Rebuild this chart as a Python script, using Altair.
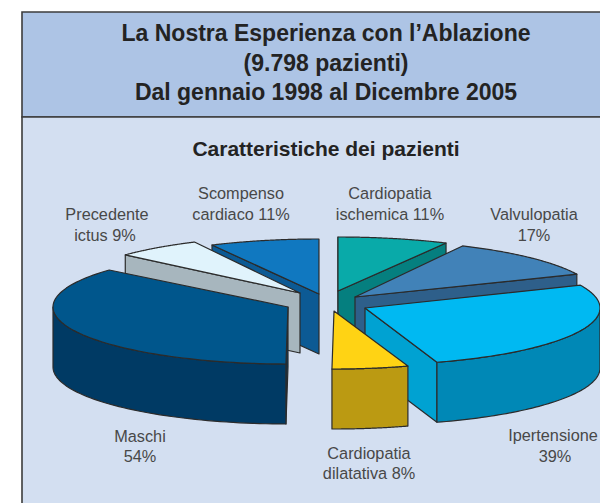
import math
import altair as alt
import pandas as pd

# ---- data ----
categories = ["Maschi", "Precedente ictus", "Scompenso cardiaco", "Cardiopatia ischemica",
              "Valvulopatia", "Ipertensione", "Cardiopatia dilatativa"]
percent = [54, 9, 11, 11, 17, 39, 8]

title_lines = ["La Nostra Esperienza con l\u2019Ablazione", "(9.798 pazienti)", "Dal gennaio 1998 al Dicembre 2005"]
subtitle = "Caratteristiche dei pazienti"
label_lines = [["Maschi", "54%"], ["Precedente", "ictus 9%"], ["Scompenso", "cardiaco 11%"],
               ["Cardiopatia", "ischemica 11%"], ["Valvulopatia", "17%"], ["Ipertensione", "39%"],
               ["Cardiopatia", "dilatativa 8%"]]

# ---- styling / layout ----
top_colors = ["#00568c", "#e0f3fc", "#1078c0", "#09aaa9", "#4182b8", "#00b9f2", "#ffd314"]
rim_colors = ["#003a64", "#a7b6be", "#0c5a94", "#057f7f", "#2e5f8a", "#0088b6", "#bb9a12"]
face_colors = ["#003a64", "#a7b6be", "#0c5a94", "#057f7f", "#2e5f8a", "#00a2d2", "#bb9a12"]
apex = [(288, 307), (300, 293), (319, 294), (338, 291), (355, 297), (365, 308), (334, 311)]
radius_x = [235, 235, 235, 235, 242, 235, 235]
radius_y = [57, 57, 55, 54, 57, 57, 58]
edge_nudge = [(0.5, 0), (1.5, 1.1), (0.7, 1.2), (1.2, 2), (1, 0), (0, 1.5), (1, 0.5)]
paint_order = [2, 1, 0, 3, 4, 5, 6]
label_xy = [[(140, 437), (140, 457)], [(107, 215), (105, 236)], [(241, 194), (241, 215)],
            [(390, 194), (390, 215)], [(534, 215), (534, 236)], [(553, 436), (555, 457)],
            [(369, 454), (369, 474)]]
RX_DEPTH = 60
DEPTH = RX_DEPTH
START = 90.0
EDGE = "#2b2b2b"

total = sum(percent)


def page(x, y):
    return [x - 8, y - 8]


def pt(i, deg, drop=0.0):
    a = math.radians(deg)
    c = apex[i]
    return page(c[0] + radius_x[i] * math.cos(a), c[1] + radius_y[i] * math.sin(a) + drop)


def feature(ring, fill):
    ring = ring + [ring[0]]
    return {"type": "Feature", "properties": {"fill": fill},
            "geometry": {"type": "Polygon", "coordinates": [ring]}}


angles = []
cur = START
for v, n in zip(percent, edge_nudge):
    angles.append((cur + n[0], cur + v / total * 360 + n[1]))
    cur += v / total * 360

features = []
for i in paint_order:
    a0, a1 = angles[i]
    c = apex[i]
    tip = page(*c)
    low = page(c[0], c[1] + DEPTH)
    # radial faces that look towards the viewer
    if math.sin(math.radians(a0 - 90)) > 1e-6:
        features.append(feature([tip, pt(i, a0), pt(i, a0, DEPTH), low], face_colors[i]))
    if math.cos(math.radians(a1)) > 1e-6:
        features.append(feature([tip, pt(i, a1), pt(i, a1, DEPTH), low], face_colors[i]))
    # outer rim, front half only
    steps = [a0 + (a1 - a0) * k / 80 for k in range(81)]
    vis = [d for d in steps if math.sin(math.radians(d)) >= -1e-6]
    if len(vis) > 1:
        ring = [pt(i, d) for d in vis] + [pt(i, d, DEPTH) for d in reversed(vis)]
        features.append(feature(ring, rim_colors[i]))
    # top surface
    features.append(feature([tip] + [pt(i, d) for d in steps], top_colors[i]))

pie = alt.Chart(alt.Data(values=features)).mark_geoshape(stroke=EDGE, strokeWidth=1.2, strokeJoin="round").encode(
    fill=alt.Fill("properties.fill:N", scale=None)
).project(type="identity", scale=1, translate=[0, 0])

# panels
x0, y0 = page(22, 12)
_, y1 = page(22, 117)
panels = pd.DataFrame({"x": [x0, x0], "x2": [640, 640], "y": [y0, y1], "y2": [y1, 540],
                       "c": ["#adc4e5", "#d3dff1"]})
bands = alt.Chart(panels).mark_rect(stroke="#3c3c3c", strokeWidth=1.6).encode(
    x=alt.X("x:Q", scale=None), x2="x2:Q", y=alt.Y("y:Q", scale=None), y2="y2:Q",
    fill=alt.Fill("c:N", scale=None))


def text(line, x, y, size, weight, color, font="Liberation Sans"):
    px, py = page(x, y)
    return alt.Chart(pd.DataFrame({"t": [line]})).mark_text(
        font=font, fontSize=size, fontWeight=weight, color=color, align="center", baseline="middle"
    ).encode(x=alt.value(px), y=alt.value(py), text="t:N")


layers = [bands, pie]
for line, y in zip(title_lines, [34, 64, 93]):
    layers.append(text(line, 326, y, 23, "bold", "#232323"))
layers.append(text(subtitle, 326, 150, 21, "bold", "#232323"))
for lines, xy in zip(label_lines, label_xy):
    for line, (x, y) in zip(lines, xy):
        layers.append(text(line, x, y, 16.3, "normal", "#484848"))

chart = alt.layer(*layers).properties(
    width=592, height=495, padding=0, autosize=alt.AutoSizeParams(type="none"), background="white"
).configure_view(stroke=None)

chart.save("out.html", embed_options={"renderer": "svg", "actions": False})
